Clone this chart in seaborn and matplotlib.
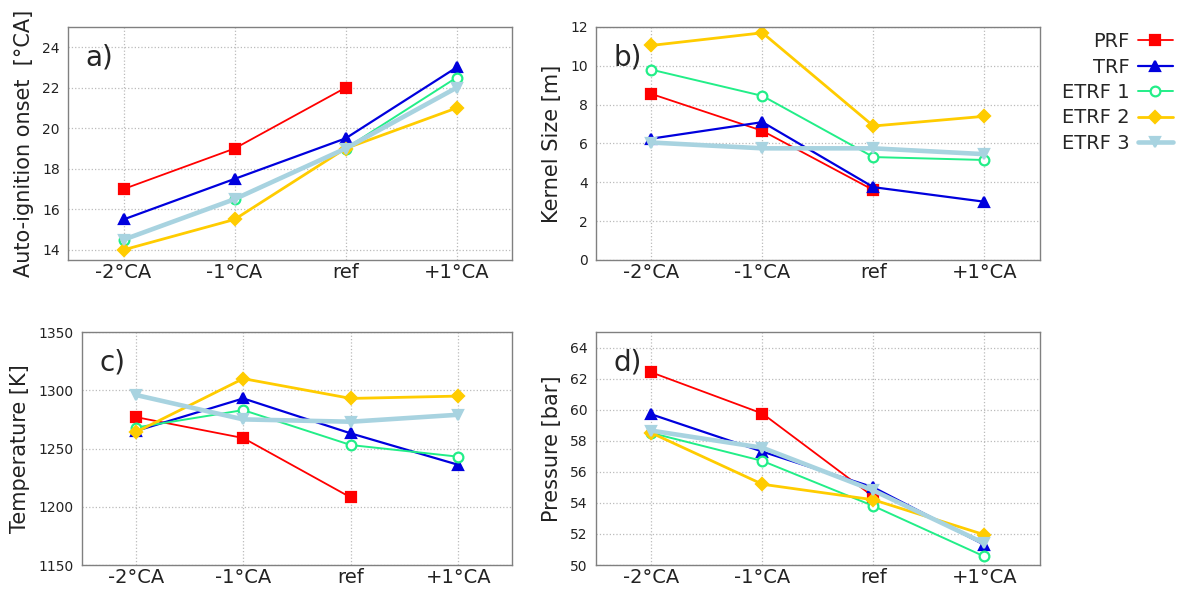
import numpy as np
import pandas as pd
import matplotlib
matplotlib.use("Agg")
import matplotlib.pyplot as plt
import seaborn as sns

# categories along x
cases = ["-2°CA", "-1°CA", "ref", "+1°CA"]
series = ["PRF", "TRF", "ETRF 1", "ETRF 2", "ETRF 3"]

# a) auto-ignition onset [°CA]
onset_prf = [17.0, 19.0, 22.0, np.nan]
onset_trf = [15.5, 17.5, 19.5, 23.0]
onset_etrf1 = [14.5, 16.5, 19.0, 22.5]
onset_etrf2 = [14.0, 15.5, 19.0, 21.0]
onset_etrf3 = [14.5, 16.5, 19.0, 22.0]

# b) kernel size [m]
kernel_prf = [8.55, 6.65, 3.6, np.nan]
kernel_trf = [6.25, 7.1, 3.75, 3.0]
kernel_etrf1 = [9.8, 8.45, 5.3, 5.15]
kernel_etrf2 = [11.05, 11.7, 6.9, 7.4]
kernel_etrf3 = [6.05, 5.75, 5.75, 5.45]

# c) temperature [K]
temp_prf = [1277, 1259, 1208, np.nan]
temp_trf = [1265, 1293, 1263, 1236]
temp_etrf1 = [1268, 1283, 1253, 1243]
temp_etrf2 = [1264, 1310, 1293, 1295]
temp_etrf3 = [1296, 1275, 1273, 1279]

# d) pressure [bar]
press_prf = [62.4, 59.75, 54.4, np.nan]
press_trf = [59.7, 57.3, 55.0, 51.3]
press_etrf1 = [58.5, 56.7, 53.8, 50.55]
press_etrf2 = [58.5, 55.2, 54.2, 51.95]
press_etrf3 = [58.65, 57.55, 54.8, 51.4]

panels = [
    ("a)", "Auto-ignition onset  [°CA]", [onset_prf, onset_trf, onset_etrf1, onset_etrf2, onset_etrf3], (13.5, 25), np.arange(14, 25, 2)),
    ("b)", "Kernel Size [m]", [kernel_prf, kernel_trf, kernel_etrf1, kernel_etrf2, kernel_etrf3], (0, 12), np.arange(0, 13, 2)),
    ("c)", "Temperature [K]", [temp_prf, temp_trf, temp_etrf1, temp_etrf2, temp_etrf3], (1150, 1350), np.arange(1150, 1351, 50)),
    ("d)", "Pressure [bar]", [press_prf, press_trf, press_etrf1, press_etrf2, press_etrf3], (50, 65), np.arange(50, 65, 2)),
]

styles = {
    "PRF": dict(color="#ff0000", marker="s", lw=1.3, ms=7, mfc="#ff0000"),
    "TRF": dict(color="#0000dd", marker="^", lw=1.6, ms=7.5, mfc="#0000dd"),
    "ETRF 1": dict(color="#22ee88", marker="o", lw=1.4, ms=7, mfc="white"),
    "ETRF 2": dict(color="#ffcc00", marker="D", lw=2.0, ms=6, mfc="#ffcc00"),
    "ETRF 3": dict(color="#a8d3e0", marker="v", lw=3.3, ms=7.5, mfc="#a8d3e0"),
}

sns.set_style("white")
plt.rcParams["font.family"] = ["DejaVu Sans"]

fig = plt.figure(figsize=(11.83, 5.89), dpi=100)
boxes = [
    [0.0575, 0.5586, 0.3753, 0.3956],
    [0.5038, 0.5586, 0.3752, 0.3956],
    [0.0693, 0.0407, 0.3635, 0.3956],
    [0.5038, 0.0407, 0.3752, 0.3956],
]

xpos = np.arange(len(cases))
for box, (letter, ylabel, data, ylim, yticks) in zip(boxes, panels):
    ax = fig.add_axes(box)
    for name, vals in zip(series, data):
        st = styles[name]
        sns.lineplot(x=xpos, y=vals, ax=ax, color=st["color"], marker=st["marker"],
                     linewidth=st["lw"], markersize=st["ms"], markerfacecolor=st["mfc"],
                     markeredgecolor=st["color"], markeredgewidth=1.6, label=name,
                     legend=False)
    ax.set_xlim(-0.5, 3.5)
    ax.set_ylim(*ylim)
    ax.set_yticks(yticks)
    ax.set_xticks(xpos)
    ax.set_xticklabels(cases, fontsize=14)
    ax.tick_params(axis="y", labelsize=10, colors="#222222", length=0, pad=6)
    ax.tick_params(axis="x", colors="#222222", length=0, pad=2)
    ax.grid(True, linestyle=":", color="#bbbbbb", linewidth=0.9)
    for sp in ax.spines.values():
        sp.set_color("#808080")
        sp.set_linewidth(1.0)
    ax.set_ylabel(ylabel, fontsize=15, color="#222222", labelpad=6)
    ax.set_xlabel("")
    ax.text(0.04, 0.87, letter, transform=ax.transAxes, fontsize=20, va="center", ha="left")

handles, labels = fig.axes[1].get_legend_handles_labels()
fig.legend(handles, labels, loc="upper right", bbox_to_anchor=(1.006, 0.975), frameon=False,
           markerfirst=False, fontsize=14, handlelength=1.8, labelspacing=0.33, handletextpad=0.4)

fig.savefig("out.png", dpi=100)
